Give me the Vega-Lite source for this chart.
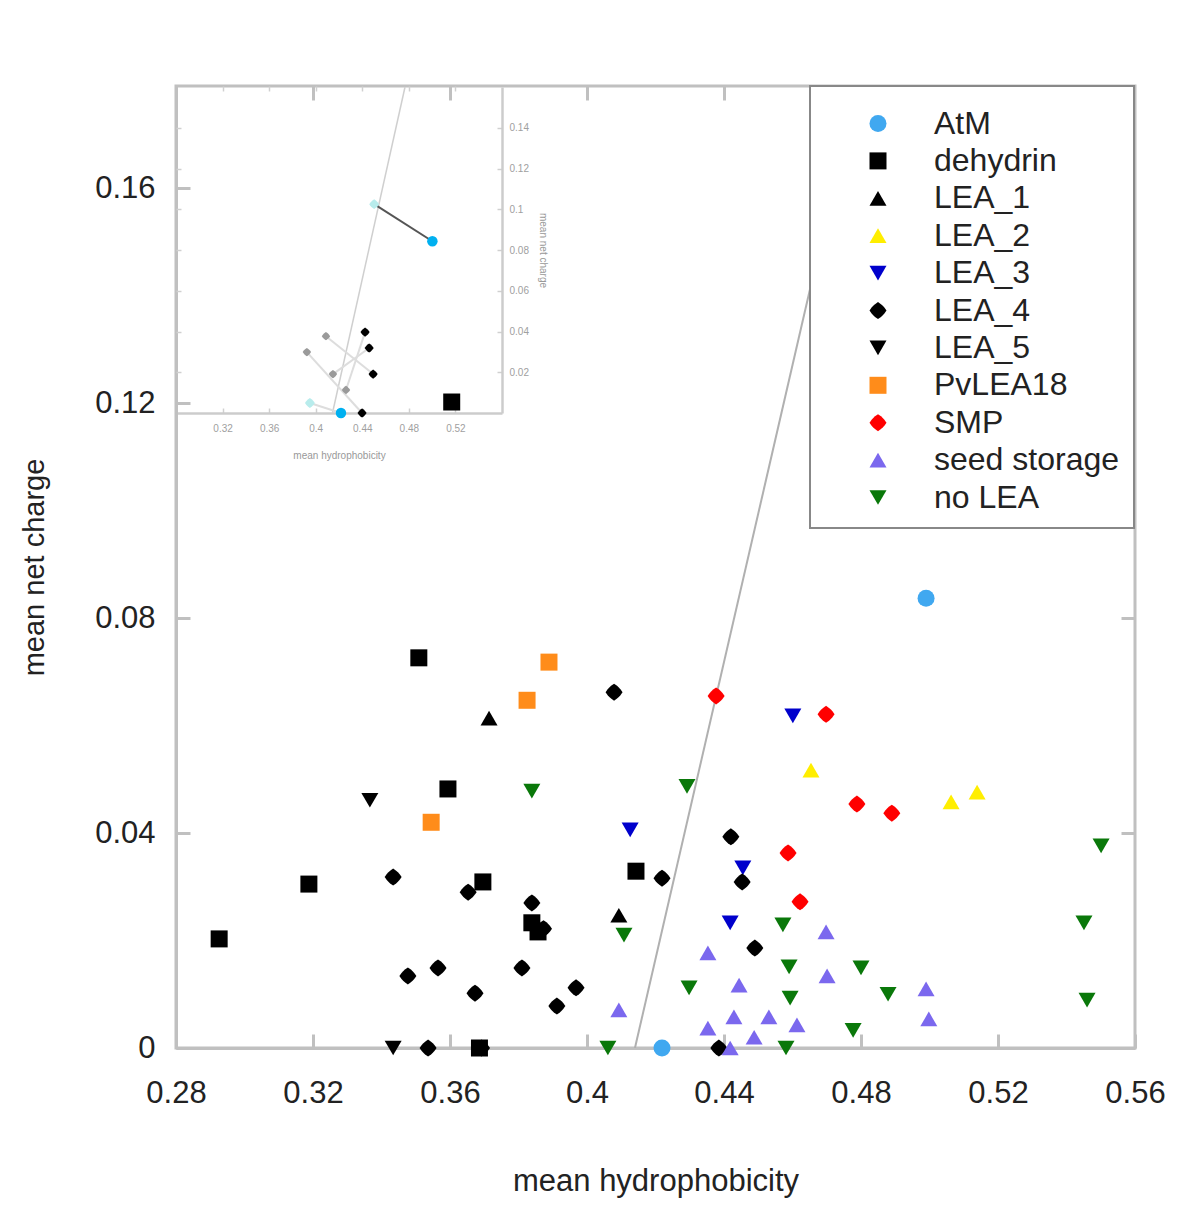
{
  "$schema": "https://vega.github.io/schema/vega-lite/v6.json",
  "width": 959,
  "height": 962,
  "autosize": {"type": "none"},
  "padding": {"left": 176, "top": 86, "right": 65, "bottom": 163},
  "background": "white",
  "config": {
    "font": "Liberation Sans",
    "view": {"stroke": "#c0c0c0", "strokeWidth": 3},
    "axis": {"grid": false, "titleFontWeight": "normal"},
    "legend": {"strokeWidth": 2}
  },
  "datasets": {
    "main": [
      {"h": 0.4990, "c": 0.0837, "g": "AtM"},
      {"h": 0.4219, "c": 0.0, "g": "AtM"},
      {"h": 0.3509, "c": 0.0726, "g": "dehydrin"},
      {"h": 0.3594, "c": 0.0482, "g": "dehydrin"},
      {"h": 0.3188, "c": 0.0305, "g": "dehydrin"},
      {"h": 0.3696, "c": 0.0309, "g": "dehydrin"},
      {"h": 0.2926, "c": 0.0203, "g": "dehydrin"},
      {"h": 0.4143, "c": 0.0329, "g": "dehydrin"},
      {"h": 0.3839, "c": 0.0233, "g": "dehydrin"},
      {"h": 0.3857, "c": 0.0216, "g": "dehydrin"},
      {"h": 0.3605, "c": 0.1202, "g": "dehydrin"},
      {"h": 0.3686, "c": 0.0, "g": "dehydrin"},
      {"h": 0.3714, "c": 0.0614, "g": "LEA_1"},
      {"h": 0.4093, "c": 0.0247, "g": "LEA_1"},
      {"h": 0.4654, "c": 0.0517, "g": "LEA_2"},
      {"h": 0.5063, "c": 0.0458, "g": "LEA_2"},
      {"h": 0.5139, "c": 0.0476, "g": "LEA_2"},
      {"h": 0.4601, "c": 0.0618, "g": "LEA_3"},
      {"h": 0.4126, "c": 0.0406, "g": "LEA_3"},
      {"h": 0.4455, "c": 0.0335, "g": "LEA_3"},
      {"h": 0.4418, "c": 0.0233, "g": "LEA_3"},
      {"h": 0.3434, "c": 0.0318, "g": "LEA_4"},
      {"h": 0.3653, "c": 0.0290, "g": "LEA_4"},
      {"h": 0.3477, "c": 0.0134, "g": "LEA_4"},
      {"h": 0.3565, "c": 0.0149, "g": "LEA_4"},
      {"h": 0.3673, "c": 0.0102, "g": "LEA_4"},
      {"h": 0.3536, "c": 0.0, "g": "LEA_4"},
      {"h": 0.3692, "c": 0.0, "g": "LEA_4"},
      {"h": 0.4079, "c": 0.0662, "g": "LEA_4"},
      {"h": 0.4420, "c": 0.0393, "g": "LEA_4"},
      {"h": 0.4453, "c": 0.0309, "g": "LEA_4"},
      {"h": 0.4219, "c": 0.0316, "g": "LEA_4"},
      {"h": 0.3839, "c": 0.0270, "g": "LEA_4"},
      {"h": 0.3873, "c": 0.0222, "g": "LEA_4"},
      {"h": 0.4490, "c": 0.0186, "g": "LEA_4"},
      {"h": 0.3810, "c": 0.0149, "g": "LEA_4"},
      {"h": 0.3968, "c": 0.0112, "g": "LEA_4"},
      {"h": 0.3912, "c": 0.0078, "g": "LEA_4"},
      {"h": 0.4385, "c": 0.0, "g": "LEA_4"},
      {"h": 0.3366, "c": 0.0461, "g": "LEA_5"},
      {"h": 0.3434, "c": 0.0, "g": "LEA_5"},
      {"h": 0.3889, "c": 0.0718, "g": "PvLEA18"},
      {"h": 0.3825, "c": 0.0647, "g": "PvLEA18"},
      {"h": 0.3545, "c": 0.0420, "g": "PvLEA18"},
      {"h": 0.4377, "c": 0.0655, "g": "SMP"},
      {"h": 0.4698, "c": 0.0621, "g": "SMP"},
      {"h": 0.4788, "c": 0.0454, "g": "SMP"},
      {"h": 0.4890, "c": 0.0437, "g": "SMP"},
      {"h": 0.4587, "c": 0.0363, "g": "SMP"},
      {"h": 0.4622, "c": 0.0272, "g": "SMP"},
      {"h": 0.4353, "c": 0.0177, "g": "seed storage"},
      {"h": 0.4444, "c": 0.0117, "g": "seed storage"},
      {"h": 0.4093, "c": 0.0071, "g": "seed storage"},
      {"h": 0.4429, "c": 0.0058, "g": "seed storage"},
      {"h": 0.4531, "c": 0.0058, "g": "seed storage"},
      {"h": 0.4613, "c": 0.0043, "g": "seed storage"},
      {"h": 0.4353, "c": 0.0037, "g": "seed storage"},
      {"h": 0.4488, "c": 0.0020, "g": "seed storage"},
      {"h": 0.4418, "c": 0.0, "g": "seed storage"},
      {"h": 0.4698, "c": 0.0216, "g": "seed storage"},
      {"h": 0.4701, "c": 0.0134, "g": "seed storage"},
      {"h": 0.4990, "c": 0.0110, "g": "seed storage"},
      {"h": 0.4998, "c": 0.0054, "g": "seed storage"},
      {"h": 0.3839, "c": 0.0478, "g": "no LEA"},
      {"h": 0.4292, "c": 0.0487, "g": "no LEA"},
      {"h": 0.4108, "c": 0.0210, "g": "no LEA"},
      {"h": 0.4572, "c": 0.0229, "g": "no LEA"},
      {"h": 0.4590, "c": 0.0151, "g": "no LEA"},
      {"h": 0.4298, "c": 0.0112, "g": "no LEA"},
      {"h": 0.4593, "c": 0.0093, "g": "no LEA"},
      {"h": 0.4061, "c": 0.0, "g": "no LEA"},
      {"h": 0.4581, "c": 0.0, "g": "no LEA"},
      {"h": 0.5501, "c": 0.0376, "g": "no LEA"},
      {"h": 0.5451, "c": 0.0233, "g": "no LEA"},
      {"h": 0.4800, "c": 0.0149, "g": "no LEA"},
      {"h": 0.4879, "c": 0.0100, "g": "no LEA"},
      {"h": 0.5460, "c": 0.0089, "g": "no LEA"},
      {"h": 0.4777, "c": 0.0033, "g": "no LEA"}
    ],
    "boundary": [
      {"h": 0.4140, "c": 0.0},
      {"h": 0.4788, "c": 0.179}
    ],
    "inset": [
      {"h": 0.5002, "c": 0.0843, "k": "AtM", "p": "a", "link": "primary"},
      {"h": 0.4502, "c": 0.1025, "k": "AtM shifted", "p": "a", "link": "primary"},
      {"h": 0.4217, "c": 0.0, "k": "AtM", "p": "b", "link": "secondary"},
      {"h": 0.3950, "c": 0.0049, "k": "AtM shifted", "p": "b", "link": "secondary"},
      {"h": 0.4493, "c": 0.0191, "k": "LEA_4", "p": "c", "link": "secondary"},
      {"h": 0.4088, "c": 0.0377, "k": "LEA_4 shifted", "p": "c", "link": "secondary"},
      {"h": 0.4398, "c": 0.0, "k": "LEA_4", "p": "d", "link": "secondary"},
      {"h": 0.3924, "c": 0.0299, "k": "LEA_4 shifted", "p": "d", "link": "secondary"},
      {"h": 0.4459, "c": 0.0319, "k": "LEA_4", "p": "e", "link": "secondary"},
      {"h": 0.4148, "c": 0.0191, "k": "LEA_4 shifted", "p": "e", "link": "secondary"},
      {"h": 0.4424, "c": 0.0397, "k": "LEA_4", "p": "f", "link": "secondary"},
      {"h": 0.4260, "c": 0.0113, "k": "LEA_4 shifted", "p": "f", "link": "secondary"}
    ],
    "insetBoundary": [
      {"h": 0.4144, "c": 0.0},
      {"h": 0.4767, "c": 0.16}
    ]
  },
  "resolve": {"scale": {"x": "independent", "y": "independent", "color": "independent", "shape": "independent", "size": "independent"}},
  "layer": [
    {
      "resolve": {"axis": {"x": "independent", "y": "independent"}},
      "layer": [
        {
          "data": {"name": "boundary"},
          "mark": {"type": "line", "color": "#b0b0b0", "strokeWidth": 2, "clip": true},
          "encoding": {
            "x": {"field": "h", "type": "quantitative",
              "scale": {"domain": [0.28, 0.56], "nice": false, "zero": false},
              "axis": {"orient": "bottom", "values": [0.28, 0.32, 0.36, 0.4, 0.44, 0.48, 0.52, 0.56], "format": ".2~f",
                "labelFontSize": 31, "labelColor": "#222222", "tickSize": -14, "tickWidth": 3, "tickColor": "#c0c0c0",
                "domainColor": "#c0c0c0", "domainWidth": 3, "labelPadding": 44, "labelFlush": false,
                "title": "mean hydrophobicity", "titleFontSize": 31, "titleColor": "#222222", "titlePadding": 58}},
            "y": {"field": "c", "type": "quantitative",
              "scale": {"domain": [0, 0.179], "nice": false, "zero": false},
              "axis": {"orient": "left", "values": [0, 0.04, 0.08, 0.12, 0.16], "format": ".2~f",
                "labelFontSize": 31, "labelColor": "#222222", "tickSize": -14, "tickWidth": 3, "tickColor": "#c0c0c0",
                "domainColor": "#c0c0c0", "domainWidth": 3, "labelPadding": 35, "labelFlush": false,
                "title": "mean net charge", "titleFontSize": 29, "titleColor": "#222222", "titlePadding": 45}}
          }
        },
        {
          "data": {"name": "main"},
          "mark": {"type": "point", "filled": true, "opacity": 1, "strokeWidth": 0},
          "encoding": {
            "x": {"field": "h", "type": "quantitative", "scale": {"domain": [0.28, 0.56], "nice": false, "zero": false}, "axis": null},
            "y": {"field": "c", "type": "quantitative", "scale": {"domain": [0, 0.179], "nice": false, "zero": false}, "axis": null},
            "color": {"field": "g", "type": "nominal",
              "scale": {"domain": ["AtM", "dehydrin", "LEA_1", "LEA_2", "LEA_3", "LEA_4", "LEA_5", "PvLEA18", "SMP", "seed storage", "no LEA"],
                "range": ["#40a8f0", "#000000", "#000000", "#ffee00", "#0000cc", "#000000", "#000000", "#ff8c1a", "#ff0000", "#7b68ee", "#0a780a"]},
              "legend": {"orient": "none", "legendX": 634, "legendY": 0, "title": " ", "titleFontSize": 4, "titlePadding": 3,
                "fillColor": "white", "strokeColor": "#888888",
                "padding": 14.5, "labelFontSize": 32, "labelColor": "#222222", "labelLimit": 400, "symbolOffset": 37.5, "labelOffset": 40, "rowPadding": 5.4,
                "symbolStrokeWidth": 0}},
            "shape": {"field": "g", "type": "nominal",
              "scale": {"domain": ["AtM", "dehydrin", "LEA_1", "LEA_2", "LEA_3", "LEA_4", "LEA_5", "PvLEA18", "SMP", "seed storage", "no LEA"],
                "range": ["circle", "square", "triangle-up", "triangle-up", "triangle-down",
                  "M0,-1 L0.35,-0.75 L0.56,-0.56 L0.75,-0.35 L1,0 L0.75,0.35 L0.56,0.56 L0.35,0.75 L0,1 L-0.35,0.75 L-0.56,0.56 L-0.75,0.35 L-1,0 L-0.75,-0.35 L-0.56,-0.56 L-0.35,-0.75 Z",
                  "triangle-down", "square",
                  "M0,-1 L0.35,-0.75 L0.56,-0.56 L0.75,-0.35 L1,0 L0.75,0.35 L0.56,0.56 L0.35,0.75 L0,1 L-0.35,0.75 L-0.56,0.56 L-0.75,0.35 L-1,0 L-0.75,-0.35 L-0.56,-0.56 L-0.35,-0.75 Z",
                  "triangle-up", "triangle-down"]}},
            "size": {"field": "g", "type": "nominal",
              "scale": {"domain": ["AtM", "dehydrin", "LEA_1", "LEA_2", "LEA_3", "LEA_4", "LEA_5", "PvLEA18", "SMP", "seed storage", "no LEA"],
                "range": [289, 289, 430, 300, 441, 560, 256, 289, 490, 300, 270]}}
          }
        },
        {
          "data": {"name": "main"},
          "mark": {"type": "point", "opacity": 0},
          "encoding": {
            "x": {"field": "h", "type": "quantitative", "scale": {"domain": [0.28, 0.56], "nice": false, "zero": false},
              "axis": {"orient": "top", "values": [0.32, 0.36, 0.4, 0.44, 0.48, 0.52], "labels": false, "domain": false, "title": null,
                "tickSize": -14, "tickWidth": 3, "tickColor": "#c0c0c0"}},
            "y": {"field": "c", "type": "quantitative", "scale": {"domain": [0, 0.179], "nice": false, "zero": false},
              "axis": {"orient": "right", "values": [0.04, 0.08, 0.12, 0.16], "labels": false, "domain": false, "title": null,
                "tickSize": -14, "tickWidth": 3, "tickColor": "#c0c0c0"}}
          }
        }
      ]
    },
    {
      "resolve": {"axis": {"x": "independent", "y": "independent"}, "scale": {"color": "independent"}},
      "layer": [
        {
          "data": {"name": "insetBoundary"},
          "mark": {"type": "line", "color": "#cfcfcf", "strokeWidth": 1.5},
          "encoding": {
            "x": {"field": "h", "type": "quantitative",
              "scale": {"domain": [0.28, 0.56], "range": [0, 326], "nice": false, "zero": false},
              "axis": {"orient": "bottom", "offset": -635, "values": [0.32, 0.36, 0.4, 0.44, 0.48, 0.52], "format": ".2~f",
                "labelFontSize": 10, "labelColor": "#a0a0a0", "tickSize": -5, "tickWidth": 1.5, "tickColor": "#d0d0d0",
                "domainColor": "#cccccc", "domainWidth": 2.5, "labelPadding": 15,
                "title": "mean hydrophobicity", "titleFontSize": 10, "titleColor": "#999999", "titlePadding": 17}},
            "y": {"field": "c", "type": "quantitative",
              "scale": {"domain": [0, 0.16], "range": [327, 1], "nice": false, "zero": false},
              "axis": {"orient": "right", "offset": -633, "values": [0.02, 0.04, 0.06, 0.08, 0.1, 0.12, 0.14], "format": ".2~f",
                "labelFontSize": 10, "labelColor": "#a0a0a0", "tickSize": -5, "tickWidth": 1.5, "tickColor": "#d0d0d0",
                "domainColor": "#cccccc", "domainWidth": 2.5, "labelPadding": 12,
                "title": "mean net charge", "titleFontSize": 10, "titleColor": "#999999", "titlePadding": 9}}
          }
        },
        {
          "data": {"name": "inset"},
          "mark": {"type": "line", "strokeWidth": 2},
          "encoding": {
            "x": {"field": "h", "type": "quantitative", "scale": {"domain": [0.28, 0.56], "range": [0, 326], "nice": false, "zero": false}, "axis": null},
            "y": {"field": "c", "type": "quantitative", "scale": {"domain": [0, 0.16], "range": [327, 1], "nice": false, "zero": false}, "axis": null},
            "detail": {"field": "p", "type": "nominal"},
            "color": {"field": "link", "type": "nominal", "scale": {"domain": ["primary", "secondary"], "range": ["#555555", "#dddddd"]}, "legend": null}
          }
        },
        {
          "data": {"name": "inset"},
          "mark": {"type": "point", "filled": true, "opacity": 1, "strokeWidth": 0},
          "encoding": {
            "x": {"field": "h", "type": "quantitative", "scale": {"domain": [0.28, 0.56], "range": [0, 326], "nice": false, "zero": false}, "axis": null},
            "y": {"field": "c", "type": "quantitative", "scale": {"domain": [0, 0.16], "range": [327, 1], "nice": false, "zero": false}, "axis": null},
            "color": {"field": "k", "type": "nominal", "scale": {"domain": ["AtM", "AtM shifted", "LEA_4", "LEA_4 shifted"], "range": ["#00b0f0", "#b8ecec", "#000000", "#9a9a9a"]}, "legend": null},
            "shape": {"field": "k", "type": "nominal", "scale": {"domain": ["AtM", "AtM shifted", "LEA_4", "LEA_4 shifted"],
              "range": ["circle",
                "M0,-1 L0.35,-0.75 L0.56,-0.56 L0.75,-0.35 L1,0 L0.75,0.35 L0.56,0.56 L0.35,0.75 L0,1 L-0.35,0.75 L-0.56,0.56 L-0.75,0.35 L-1,0 L-0.75,-0.35 L-0.56,-0.56 L-0.35,-0.75 Z",
                "M0,-1 L0.35,-0.75 L0.56,-0.56 L0.75,-0.35 L1,0 L0.75,0.35 L0.56,0.56 L0.35,0.75 L0,1 L-0.35,0.75 L-0.56,0.56 L-0.75,0.35 L-1,0 L-0.75,-0.35 L-0.56,-0.56 L-0.35,-0.75 Z",
                "M0,-1 L0.35,-0.75 L0.56,-0.56 L0.75,-0.35 L1,0 L0.75,0.35 L0.56,0.56 L0.35,0.75 L0,1 L-0.35,0.75 L-0.56,0.56 L-0.75,0.35 L-1,0 L-0.75,-0.35 L-0.56,-0.56 L-0.35,-0.75 Z"]}, "legend": null},
            "size": {"field": "k", "type": "nominal", "scale": {"domain": ["AtM", "AtM shifted", "LEA_4", "LEA_4 shifted"], "range": [110, 70, 140, 110]}, "legend": null}
          }
        },
        {
          "data": {"name": "inset"},
          "mark": {"type": "point", "opacity": 0},
          "encoding": {
            "x": {"field": "h", "type": "quantitative", "scale": {"domain": [0.28, 0.56], "range": [0, 326], "nice": false, "zero": false},
              "axis": {"orient": "top", "values": [0.32, 0.36, 0.4, 0.44, 0.48, 0.52], "labels": false, "domain": false, "title": null,
                "tickSize": -5, "tickWidth": 1.5, "tickColor": "#d0d0d0"}},
            "y": {"field": "c", "type": "quantitative", "scale": {"domain": [0, 0.16], "range": [327, 1], "nice": false, "zero": false},
              "axis": {"orient": "left", "values": [0.02, 0.04, 0.06, 0.08, 0.1, 0.12, 0.14], "labels": false, "domain": false, "title": null,
                "tickSize": -5, "tickWidth": 1.5, "tickColor": "#d0d0d0"}}
          }
        }
      ]
    }
  ]
}
